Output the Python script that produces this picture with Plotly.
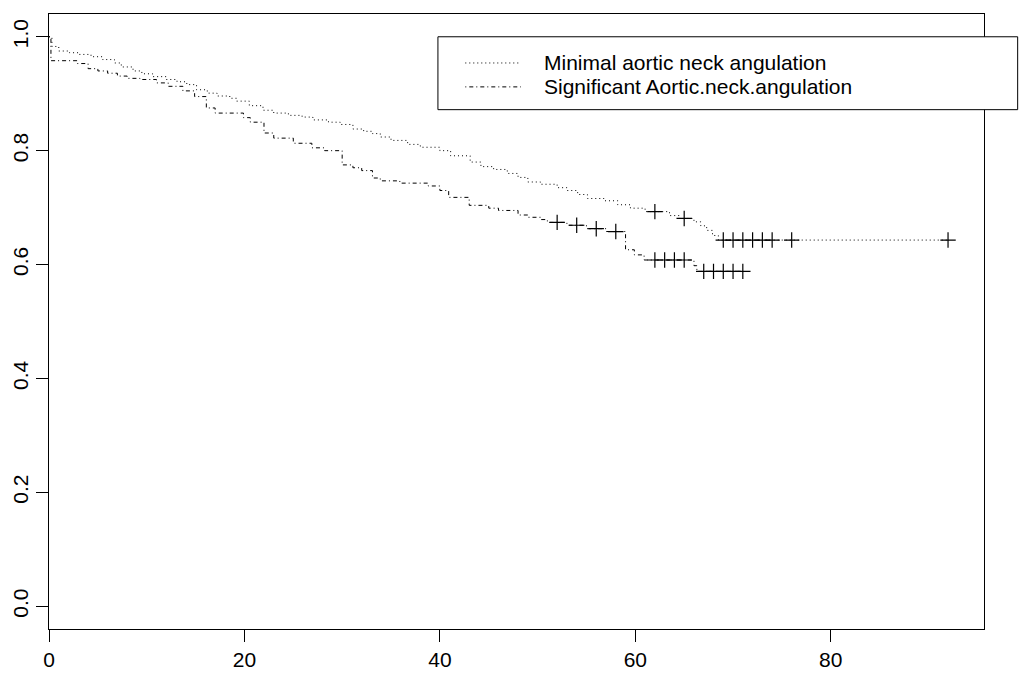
import numpy as np
import plotly.graph_objects as go

# Kaplan-Meier estimates: event times and survival just after each event
minimal_times = [0.3, 1.0, 2.1, 3.1, 4.3, 5.5, 6.7, 7.4, 8.6, 9.5, 10.6, 12.0, 13.1, 14.1,
                 15.1, 16.2, 17.2, 18.5, 19.2, 20.5, 21.9, 23.0, 24.5, 25.9, 27.0, 28.6,
                 29.8, 31.1, 32.2, 33.1, 33.9, 35.0, 36.7, 38.0, 40.0, 41.1, 43.1, 44.2,
                 45.5, 46.9, 48.0, 49.0, 50.3, 52.0, 53.0, 54.1, 55.1, 56.8, 58.2, 59.5,
                 61.0, 63.5, 64.5, 66.0, 66.7, 67.3, 67.9, 68.5]
minimal_surv = [0.983, 0.975, 0.972, 0.969, 0.965, 0.960, 0.954, 0.947, 0.940, 0.935, 0.930,
                0.925, 0.921, 0.916, 0.907, 0.901, 0.896, 0.892, 0.887, 0.879, 0.871, 0.866,
                0.862, 0.859, 0.854, 0.850, 0.846, 0.838, 0.834, 0.830, 0.824, 0.818, 0.811,
                0.806, 0.800, 0.791, 0.780, 0.772, 0.767, 0.760, 0.753, 0.745, 0.741, 0.735,
                0.730, 0.723, 0.716, 0.712, 0.705, 0.699, 0.693, 0.686, 0.681, 0.675, 0.668,
                0.660, 0.651, 0.643]
minimal_censored = [62, 65, 69, 70, 71, 72, 73, 74, 76, 92]

significant_times = [0.2, 2.9, 4.0, 5.0, 6.0, 7.0, 8.0, 9.3, 11.0, 12.2, 13.7, 14.9, 16.1,
                     17.0, 19.9, 20.6, 22.0, 23.0, 25.0, 26.9, 28.2, 30.0, 31.1, 32.0, 33.1,
                     33.9, 35.9, 38.8, 40.0, 40.9, 43.0, 45.0, 46.0, 48.0, 49.0, 50.3, 51.0,
                     53.0, 55.0, 57.0, 59.0, 59.9, 60.9, 66.0, 66.3]
significant_surv = [0.958, 0.953, 0.944, 0.940, 0.936, 0.931, 0.927, 0.925, 0.919, 0.913,
                    0.905, 0.895, 0.875, 0.866, 0.858, 0.850, 0.831, 0.822, 0.813, 0.805,
                    0.800, 0.775, 0.770, 0.765, 0.752, 0.747, 0.743, 0.738, 0.730, 0.718,
                    0.704, 0.699, 0.695, 0.687, 0.683, 0.679, 0.674, 0.669, 0.663, 0.658,
                    0.626, 0.617, 0.608, 0.598, 0.588]
significant_censored = [52, 54, 56, 58, 62, 63, 64, 65, 67, 68, 69, 70, 71]

group_labels = ["Minimal aortic neck angulation", "Significant Aortic.neck.angulation"]
x_ticks = [0, 20, 40, 60, 80]
y_ticks = [0.0, 0.2, 0.4, 0.6, 0.8, 1.0]

X_MAX = 92 * 1.04
Y_MIN, Y_MAX = -0.04, 1.04

DOT = "1px,3px"
DOTDASH = "1px,3px,4px,3px"
FONT = "Liberation Sans, Arial, Helvetica, sans-serif"
FONT_SIZE = 21


def km_path(times, surv, last_time):
    xs = [0.0] + list(times) + [last_time]
    ys = [1.0] + list(surv) + [surv[-1]]
    return xs, ys


def surv_at(times, surv, t):
    idx = np.searchsorted(np.asarray(times), t, side="right")
    return 1.0 if idx == 0 else surv[idx - 1]


fig = go.Figure()

curves = [
    (minimal_times, minimal_surv, minimal_censored, DOT),
    (significant_times, significant_surv, significant_censored, DOTDASH),
]
for (times, surv, cens, dash), name in zip(curves, group_labels):
    xs, ys = km_path(times, surv, max(cens))
    fig.add_trace(go.Scatter(
        x=xs, y=ys, mode="lines", name=name, line_shape="hv",
        line=dict(color="black", width=1, dash=dash), showlegend=False,
        hoverinfo="skip"))
    fig.add_trace(go.Scatter(
        x=cens, y=[surv_at(times, surv, c) for c in cens], mode="markers",
        marker=dict(symbol="cross-thin", size=11, line=dict(color="black", width=1.2)),
        showlegend=False, hoverinfo="skip"))


# Legend box drawn in paper coordinates, anchored at (40, 1.0) in data units
def px(t):
    return t / X_MAX


def py(v):
    return (v - Y_MIN) / (Y_MAX - Y_MIN)


box_top = 1.0
box_bottom = 0.872
fig.add_shape(type="rect", xref="paper", yref="paper",
              x0=px(39.8), x1=1.036, y0=py(box_bottom), y1=py(box_top),
              line=dict(color="black", width=1), fillcolor="white", layer="above")
row_levels = [0.954, 0.912]
for v, dash, label in zip(row_levels, [DOT, DOTDASH], group_labels):
    fig.add_shape(type="line", xref="paper", yref="paper",
                  x0=px(42.6), x1=px(48.3), y0=py(v), y1=py(v),
                  line=dict(color="black", width=1, dash=dash), layer="above")
    fig.add_annotation(xref="paper", yref="paper", x=px(50.4), y=py(v),
                       text=label, showarrow=False, xanchor="left", yanchor="middle",
                       font=dict(family=FONT, size=FONT_SIZE, color="black"))

fig.update_xaxes(range=[0, X_MAX], tickvals=x_ticks, ticktext=[str(t) for t in x_ticks],
                 showline=True, linecolor="black", linewidth=1, mirror=True,
                 ticks="outside", ticklen=12, tickcolor="black", tickwidth=1,
                 showgrid=False, zeroline=False, automargin=False,
                 tickfont=dict(family=FONT, size=FONT_SIZE, color="black"))
fig.update_yaxes(range=[Y_MIN, Y_MAX], tickvals=y_ticks,
                 ticktext=[f"{t:.1f}" for t in y_ticks], tickangle=-90,
                 showline=True, linecolor="black", linewidth=1, mirror=True,
                 ticks="outside", ticklen=12, tickcolor="black", tickwidth=1,
                 showgrid=False, zeroline=False, automargin=False,
                 tickfont=dict(family=FONT, size=FONT_SIZE, color="black"))

fig.update_layout(width=1019, height=680, margin=dict(l=49, r=35, t=14, b=51),
                  plot_bgcolor="white", paper_bgcolor="white", showlegend=False)

fig.write_html("out.html")
